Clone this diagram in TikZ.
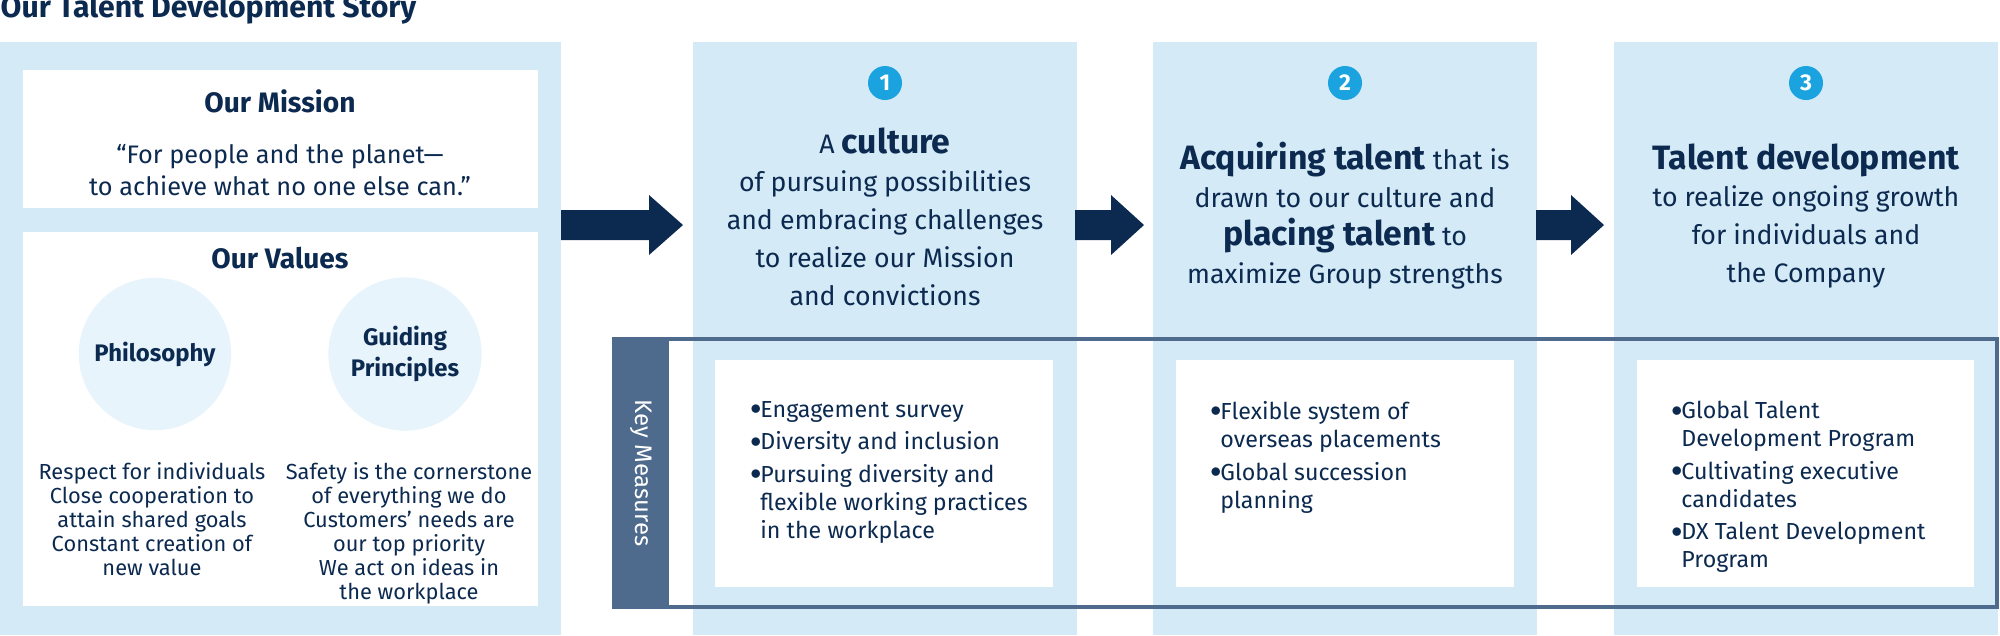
\documentclass[tikz,border=0pt]{standalone}
\usepackage{fontspec}
\setmainfont{Fira Sans}
\usetikzlibrary{positioning}
\definecolor{navy}{HTML}{0C2A50}
\definecolor{paleblue}{HTML}{D4EAF7}
\definecolor{paleround}{HTML}{E7F4FC}
\definecolor{numblue}{HTML}{1BA3E0}
\definecolor{slate}{HTML}{4E6A8C}
\newcommand{\fs}[2]{\fontsize{#1}{#2}\selectfont}
\newcommand{\hd}[1]{{\fs{9.6}{11}\bfseries #1}}
\tikzset{
  panel/.style={fill=paleblue},
  whitebox/.style={fill=white},
  numdot/.style={circle,fill=numblue,text=white,minimum size=0.34cm,inner sep=0pt,font=\fs{6.5}{7}\bfseries},
  headtext/.style={align=center,text=navy,font=\fs{7.6}{10.8}},
  listtext/.style={align=left,text=navy,anchor=north west,font=\fs{6.6}{8}},
  valtext/.style={align=center,text=navy,font=\fs{6.2}{6.8}},
  bigarrow/.style={fill=navy}
}
\newcommand{\itm}{\makebox[0.11cm][l]{\raisebox{0.3ex}{\tiny$\bullet$}}}
\newcommand{\cnt}{\hspace*{0.11cm}}
\begin{document}
\begin{tikzpicture}[x=0.01cm,y=-0.01cm]
   \useasboundingbox (0,0) rectangle (2000,635);
   \node [anchor=base west,inner sep=0pt,text=navy,font=\fs{8.6}{10}\bfseries] (title) at (0,17) {Our Talent Development Story};
   % left panel
   \fill [panel] (0,42) rectangle (561,635);
   \fill [whitebox] (23,70) rectangle (538,208);
   \fill [whitebox] (23,232) rectangle (538,606);
   \node [text=navy,font=\fs{8}{9}\bfseries] (mission) at (280,101) {Our Mission};
   \node [headtext,font=\fs{7.2}{9.2},below=2pt of mission] (missiontext) {“For people and the planet—\\to achieve what no one else can.”};
   \node [text=navy,font=\fs{8}{9}\bfseries] (values) at (280,258) {Our Values};
   \node [circle,fill=paleround,minimum size=1.3cm,text=navy,font=\fs{6.8}{8.8}\bfseries,align=center] (philo) at (155,354) {Philosophy};
   \node [circle,fill=paleround,minimum size=1.3cm,text=navy,font=\fs{6.8}{8.8}\bfseries,align=center] (guide) at (405,354) {Guiding\\Principles};
   \node [valtext,anchor=north] (philotext) at (152,450) {Respect for individuals\\Close cooperation to\\attain shared goals\\Constant creation of\\new value};
   \node [valtext,anchor=north] (guidetext) at (409,450) {Safety is the cornerstone\\of everything we do\\Customers’ needs are\\our top priority\\We act on ideas in\\the workplace};
   % three columns
   \foreach \x/\n in {693/1,1153/2,1614/3}{
     \fill [panel] (\x,42) rectangle ++(384,593);
     \node [numdot] (num\n) at (\x+192,83) {\n};
   }
   \fill [bigarrow] (561,210) -- (649,210) -- (649,195) -- (683,225) -- (649,255) -- (649,240) -- (561,240) -- cycle;
   \fill [bigarrow] (1075,210) -- (1111,210) -- (1111,195) -- (1144,225) -- (1111,255) -- (1111,240) -- (1075,240) -- cycle;
   \fill [bigarrow] (1536,210) -- (1571,210) -- (1571,195) -- (1604,225) -- (1571,255) -- (1571,240) -- (1536,240) -- cycle;
   \node [headtext] (culture) at (885,217) {A \hd{culture}\\of pursuing possibilities\\and embracing challenges\\to realize our Mission\\and convictions};
   \node [headtext] (acquire) at (1345,216) {\hd{Acquiring talent} that is\\drawn to our culture and\\\hd{placing talent} to\\maximize Group strengths};
   \node [headtext] (develop) at (1806,216) {\hd{Talent development}\\to realize ongoing growth\\for individuals and\\the Company};
   % key measures
   \fill [slate] (614,339) rectangle (669,607);
   \draw [slate,line width=1.2pt] (614,339) rectangle (1997,607);
   \node [rotate=-90,text=white,font=\fs{6.8}{8}] (keylabel) at (641,473) {Key Measures};
   \fill [whitebox] (715,360) rectangle (1053,587);
   \fill [whitebox] (1176,360) rectangle (1514,587);
   \fill [whitebox] (1637,360) rectangle (1974,587);
   \node [listtext] (meas1) at (737,389) {\itm Engagement survey\\[1.2pt]\itm Diversity and inclusion\\[1.2pt]\itm Pursuing diversity and\\\cnt flexible working practices\\\cnt in the workplace};
   \node [listtext] (meas2) at (1197,389) {\itm Flexible system of\\\cnt overseas placements\\[1.2pt]\itm Global succession\\\cnt planning};
   \node [listtext] (meas3) at (1658,389) {\itm Global Talent\\\cnt Development Program\\[1.2pt]\itm Cultivating executive\\\cnt candidates\\[1.2pt]\itm DX Talent Development\\\cnt Program};
\end{tikzpicture}
\end{document}
